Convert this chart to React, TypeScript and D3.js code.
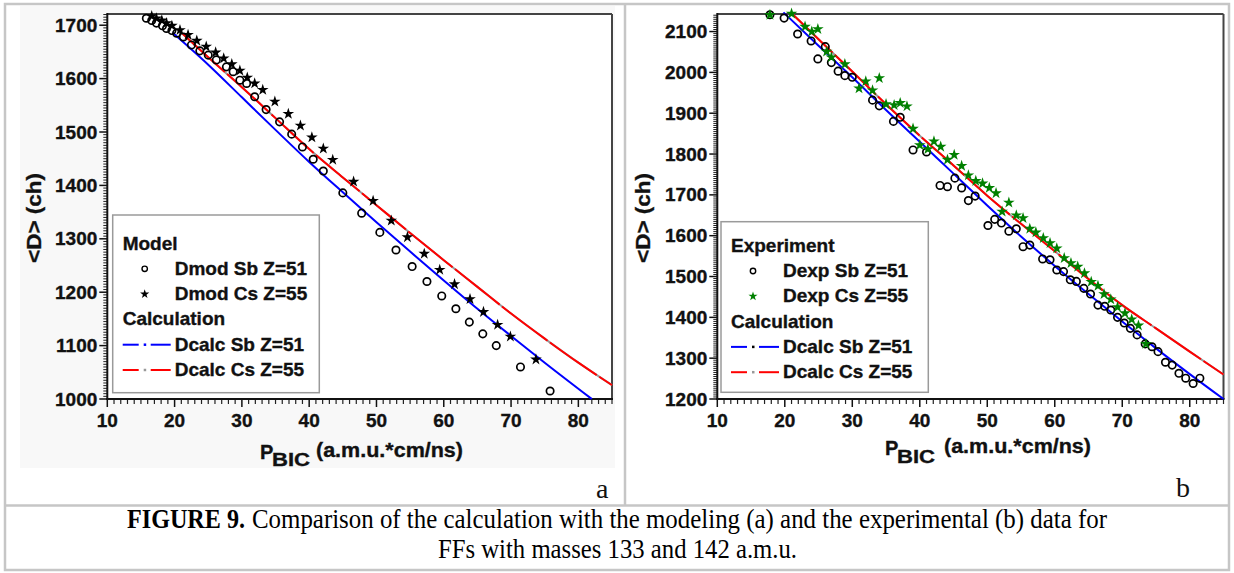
import React, { useEffect } from 'react';
import * as d3 from 'd3';

// ---------- data ----------
const xTicks = [10, 20, 30, 40, 50, 60, 70, 80];
const yTicksA = [1000, 1100, 1200, 1300, 1400, 1500, 1600, 1700];
const yTicksB = [1200, 1300, 1400, 1500, 1600, 1700, 1800, 1900, 2000, 2100];

// panel a: model
const modSb: [number, number][] = [
  [15.8, 1713], [16.6, 1709], [17.3, 1704], [18.2, 1699], [18.8, 1694], [19.6, 1690], [20.3, 1685],
  [21.3, 1678], [22.5, 1663], [23.75, 1652], [25, 1644], [26.2, 1635], [27.7, 1622], [28.7, 1613],
  [29.7, 1597], [30.7, 1591], [31.9, 1566], [33.6, 1542], [35.6, 1519], [37.4, 1496], [39, 1472],
  [40.6, 1449], [42.1, 1427], [45, 1386], [47.8, 1348], [50.5, 1312], [52.9, 1279], [55.3, 1248],
  [57.5, 1220], [59.7, 1193], [61.8, 1169], [63.8, 1144], [65.8, 1122], [67.8, 1100], [71.4, 1060],
  [75.8, 1015],
];
const modCs: [number, number][] = [
  [16.6, 1717], [17.3, 1713], [18.1, 1709], [18.8, 1704], [19.6, 1699], [20.8, 1691], [22, 1682],
  [23.3, 1671], [24.7, 1660], [26.1, 1649], [27.3, 1638], [28.5, 1627], [29.7, 1615], [30.8, 1602],
  [31.9, 1591], [33.1, 1579], [34.9, 1557], [36.9, 1534], [38.7, 1512], [40.4, 1490], [42.1, 1469],
  [43.5, 1448], [46.6, 1407], [49.5, 1371], [52.2, 1334], [54.6, 1303], [57.1, 1272], [59.4, 1242],
  [61.6, 1215], [63.9, 1187], [65.9, 1163], [68, 1139], [69.9, 1117], [73.7, 1074],
];
const calcSbA: [number, number][] = [
  [19.7, 1686], [25, 1626], [30, 1565], [35, 1504], [40, 1444], [45, 1387], [50, 1331], [55, 1276],
  [60, 1222], [65, 1169], [70, 1118], [75, 1068], [82, 1000],
];
const calcCsA: [number, number][] = [
  [21.2, 1684], [25, 1640], [30, 1584], [35, 1526], [40, 1468], [45, 1415], [50, 1363], [55, 1311],
  [60, 1260], [65, 1210], [70, 1160], [75, 1113], [80, 1068], [85, 1026],
];

// panel b: experiment
const expSb: [number, number][] = [
  [17.8, 2141], [19.9, 2133], [21.9, 2094], [23.9, 2077], [24.9, 2033], [26, 2063], [26.9, 2024],
  [27.9, 2003], [28.9, 1992], [30, 1988], [33, 1932], [34, 1918], [36.1, 1880], [37.1, 1890],
  [39, 1810], [41, 1805], [43, 1723], [44.1, 1720], [45.2, 1741], [46.2, 1717], [47.2, 1686],
  [48.2, 1697], [50.1, 1625], [51.1, 1640], [52.1, 1631], [53.2, 1611], [54.3, 1617], [55.3, 1573],
  [56.3, 1577], [58.2, 1543], [59.3, 1541], [60.3, 1516], [61.3, 1512], [62.3, 1492], [63.2, 1488],
  [64.3, 1471], [65.3, 1457], [66.4, 1430], [67.4, 1427], [68.3, 1418], [69.3, 1400], [70.3, 1386],
  [71.2, 1373], [72.2, 1357], [73.4, 1335], [74.4, 1328], [75.3, 1316], [76.4, 1290], [77.4, 1283],
  [78.4, 1263], [79.4, 1251], [80.5, 1238], [81.5, 1251],
];
const expCs: [number, number][] = [
  [17.8, 2141], [21, 2144], [23, 2112], [24, 2100], [24.9, 2106], [26.2, 2051], [26.9, 2037],
  [28.9, 2020], [31, 1961], [32, 1978], [33, 1956], [34, 1986], [35, 1922], [36.2, 1920],
  [37.1, 1925], [38.1, 1917], [39, 1862], [40, 1822], [41.2, 1812], [42.1, 1831], [43.1, 1818],
  [44.1, 1786], [45.1, 1798], [46.2, 1771], [47.2, 1748], [48.3, 1734], [49.3, 1728], [50.3, 1717],
  [51.3, 1704], [52.2, 1659], [53.2, 1681], [54.3, 1650], [55.3, 1643], [56.3, 1617], [57.2, 1608],
  [58.3, 1594], [59.3, 1582], [60.3, 1569], [61.4, 1545], [62.4, 1533], [63.4, 1524], [64.4, 1508],
  [65.4, 1487], [66.4, 1477], [67.3, 1457], [68.3, 1444], [69.3, 1425], [70.4, 1410], [71.4, 1395],
  [72.4, 1380], [73.5, 1335],
];
const calcSbB: [number, number][] = [
  [19.8, 2147], [25, 2065], [30, 1988], [35, 1908], [40, 1830], [45, 1752], [50, 1674], [55, 1598],
  [60, 1526], [65, 1457], [70, 1390], [75, 1324], [80, 1261], [85, 1200],
];
const calcCsB: [number, number][] = [
  [21, 2145], [25, 2081], [30, 2002], [35, 1922], [40, 1845], [45, 1772], [50, 1698], [55, 1629],
  [60, 1562], [65, 1494], [70, 1430], [75, 1373], [80, 1316], [85, 1260],
];

const legendA = ['Model', 'Dmod Sb Z=51', 'Dmod Cs Z=55', 'Calculation', 'Dcalc Sb Z=51', 'Dcalc Cs Z=55'];
const legendB = ['Experiment', 'Dexp Sb Z=51', 'Dexp Cs Z=55', 'Calculation', 'Dcalc Sb Z=51', 'Dcalc Cs Z=55'];

const FONT = "'Liberation Sans', Arial, Helvetica, sans-serif";
const SERIF = "'Liberation Serif', 'Times New Roman', serif";

type P = {
  left: number; right: number; top: number; bottom: number;
  yDomain: [number, number]; yTicks: number[];
  circles: [number, number][]; stars: [number, number][]; starColor: string;
  calcSb: [number, number][]; calcCs: [number, number][];
  legend: string[]; lg: { x: number; y: number; w: number; h: number; base: number };
  yLabelX: number; xl: { p: number; pBase: number; bic: number; bicBase: number; u: number; uBase: number };
  tag: string; tagX: number; tagY: number; legendDot: string;
};

const bold = { fontFamily: FONT, fontWeight: 'bold' as const, fill: '#111', stroke: '#111', strokeWidth: 0.35 };

function Panel(p: P) {
  const x = d3.scaleLinear().domain([10, 85]).range([p.left, p.right]);
  const y = d3.scaleLinear().domain(p.yDomain).range([p.bottom, p.top]);
  const line = d3.line<[number, number]>().x(d => x(d[0])).y(d => y(d[1])).curve(d3.curveMonotoneX);
  const star = d3.symbol().type(d3.symbolStar).size(42)() as string;
  const starSmall = d3.symbol().type(d3.symbolStar).size(26)() as string;
  const xMinor = d3.range(11, 86, 1).filter(v => v % 10 !== 0);
  const yMinor = d3.range(p.yDomain[0], p.yDomain[1], 5).filter(v => v % 100 !== 0);
  const lg = p.lg;
  const rows = [0, 1, 2, 3, 4, 5].map(i => lg.base + i * 25.3);
  const mx = lg.x + 32;
  const tx = lg.x + 62;
  return (
    <g>
      {yMinor.map(v => (
        <line key={'ym' + v} x1={p.left - 4} x2={p.left} y1={y(v)} y2={y(v)} stroke="#222" strokeWidth={1} />
      ))}
      {p.yTicks.map(v => (
        <g key={'yt' + v}>
          <line x1={p.left - 8} x2={p.left} y1={y(v)} y2={y(v)} stroke="#111" strokeWidth={1.5} />
          <text x={p.left - 10} y={y(v) + 6.5} textAnchor="end" fontSize={19} {...bold}>{v}</text>
        </g>
      ))}
      {xMinor.map(v => (
        <line key={'xm' + v} x1={x(v)} x2={x(v)} y1={p.bottom} y2={p.bottom + 5} stroke="#222" strokeWidth={1.2} />
      ))}
      {xTicks.map(v => (
        <g key={'xt' + v}>
          <line x1={x(v)} x2={x(v)} y1={p.bottom} y2={p.bottom + 8} stroke="#111" strokeWidth={1.5} />
          <text x={x(v)} y={p.bottom + 28} textAnchor="middle" fontSize={19} {...bold}>{v}</text>
        </g>
      ))}
      <line x1={p.left} x2={p.right} y1={p.top} y2={p.top} stroke="#444" strokeWidth={2} />
      <line x1={p.right} x2={p.right} y1={p.top} y2={p.bottom} stroke="#444" strokeWidth={2} />
      <line x1={p.left} x2={p.left} y1={p.top - 1} y2={p.bottom + 1} stroke="#111" strokeWidth={2} />
      <line x1={p.left - 1} x2={p.right + 1} y1={p.bottom} y2={p.bottom} stroke="#111" strokeWidth={2} />

      <rect x={lg.x} y={lg.y} width={lg.w} height={lg.h} fill="#fff" stroke="#9a9a9a" strokeWidth={1.5} />

      <path d={line(p.calcSb) as string} fill="none" stroke="#0000ff" strokeWidth={2} />
      <path d={line(p.calcCs) as string} fill="none" stroke="#999" strokeWidth={2} />
      <path d={line(p.calcCs) as string} fill="none" stroke="#ff0000" strokeWidth={2} strokeDasharray="57 3" />

      {p.circles.map((d, i) => (
        <circle key={'c' + i} cx={x(d[0])} cy={y(d[1])} r={3.7} fill="none" stroke="#000" strokeWidth={1.7} />
      ))}
      {p.stars.map((d, i) => (
        <path key={'s' + i} d={star} transform={`translate(${x(d[0])},${y(d[1])})`} fill={p.starColor} />
      ))}

      <text x={lg.x + 10} y={rows[0]} fontSize={19} {...bold}>{p.legend[0]}</text>
      <circle cx={mx} cy={rows[1] - 6} r={2.7} fill="none" stroke="#000" strokeWidth={1.4} />
      <text x={tx} y={rows[1]} fontSize={19} {...bold}>{p.legend[1]}</text>
      <path d={starSmall} transform={`translate(${mx},${rows[2] - 6})`} fill={p.starColor} />
      <text x={tx} y={rows[2]} fontSize={19} {...bold}>{p.legend[2]}</text>
      <text x={lg.x + 10} y={rows[3]} fontSize={19} {...bold}>{p.legend[3]}</text>
      {[['#0000ff', p.legendDot, 4], ['#ff0000', '#999', 5]].map(([c, dc, i]) => (
        <g key={'ll' + i}>
          <line x1={lg.x + 10} x2={lg.x + 26} y1={rows[i as number] - 6} y2={rows[i as number] - 6} stroke={c as string} strokeWidth={2} />
          <line x1={mx - 1} x2={mx + 1.5} y1={rows[i as number] - 6} y2={rows[i as number] - 6} stroke={dc as string} strokeWidth={2.5} />
          <line x1={lg.x + 38} x2={lg.x + 58} y1={rows[i as number] - 6} y2={rows[i as number] - 6} stroke={c as string} strokeWidth={2} />
          <text x={tx} y={rows[i as number]} fontSize={19} {...bold}>{p.legend[i as number]}</text>
        </g>
      ))}

      <text transform={`translate(${p.yLabelX},218) rotate(-90)`} textAnchor="middle" fontSize={21} {...bold} textLength={90} lengthAdjust="spacingAndGlyphs">{'<D> (ch)'}</text>
      <text x={p.xl.p} y={p.xl.pBase} fontSize={20} {...bold}>P</text>
      <text x={p.xl.bic} y={p.xl.bicBase} fontSize={19} {...bold} textLength={38} lengthAdjust="spacingAndGlyphs">BIC</text>
      <text x={p.xl.u} y={p.xl.uBase} fontSize={20} {...bold} textLength={147} lengthAdjust="spacingAndGlyphs">(a.m.u.*cm/ns)</text>

      <text x={p.tagX} y={p.tagY} fontFamily={SERIF} fontSize={28} fill="#111">{p.tag}</text>
    </g>
  );
}

export default function App() {
  useEffect(() => {
    document.body.style.margin = '0';
  }, []);
  return (
    <svg width={1234} height={573} style={{ position: 'absolute', left: 0, top: 0, background: '#fff' }}>
      <rect x={0} y={0} width={1234} height={573} fill="#fff" />
      <rect x={20} y={6} width={595} height={462} fill="#f8f8f8" />
      <rect x={5} y={4} width={1224} height={566} fill="none" stroke="#c6c6c6" strokeWidth={2.5} />
      <line x1={5} x2={1229} y1={505.5} y2={505.5} stroke="#c6c6c6" strokeWidth={2.5} />
      <line x1={625} x2={625} y1={4} y2={505.5} stroke="#c6c6c6" strokeWidth={2.5} />
      <rect x={107.3} y={14} width={504.7} height={385} fill="#fff" />

      <Panel
        left={107.3} right={612} top={14} bottom={399}
        yDomain={[1000, 1721]} yTicks={yTicksA}
        circles={modSb} stars={modCs} starColor="#000"
        calcSb={calcSbA} calcCs={calcCsA}
        legend={legendA}
        lg={{ x: 112.7, y: 215, w: 206.6, h: 177.7, base: 249.5 }}
        legendDot="#0000ff"
        yLabelX={41}
        xl={{ p: 260, pBase: 459, bic: 272, bicBase: 466, u: 316, uBase: 457 }}
        tag="a" tagX={596} tagY={498}
      />
      <Panel
        left={717.3} right={1223.5} top={14} bottom={399}
        yDomain={[1200, 2143]} yTicks={yTicksB}
        circles={expSb} stars={expCs} starColor="#008000"
        calcSb={calcSbB} calcCs={calcCsB}
        legend={legendB}
        lg={{ x: 721, y: 221.7, w: 207.3, h: 170.6, base: 251.7 }}
        legendDot="#000"
        yLabelX={650}
        xl={{ p: 885, pBase: 455, bic: 897, bicBase: 463, u: 944, uBase: 453 }}
        tag="b" tagX={1176} tagY={497}
      />

      <text x={127} y={528} fontFamily={SERIF} fontWeight="bold" fontSize={27} fill="#000" textLength={118} lengthAdjust="spacingAndGlyphs">FIGURE 9.</text>
      <text x={252} y={528} fontFamily={SERIF} fontSize={27} fill="#000" textLength={855} lengthAdjust="spacingAndGlyphs">Comparison of the calculation with the modeling (a) and the experimental (b) data for</text>
      <text x={438} y={558} fontFamily={SERIF} fontSize={27} fill="#000" textLength={359} lengthAdjust="spacingAndGlyphs">FFs with masses 133 and 142 a.m.u.</text>
    </svg>
  );
}
